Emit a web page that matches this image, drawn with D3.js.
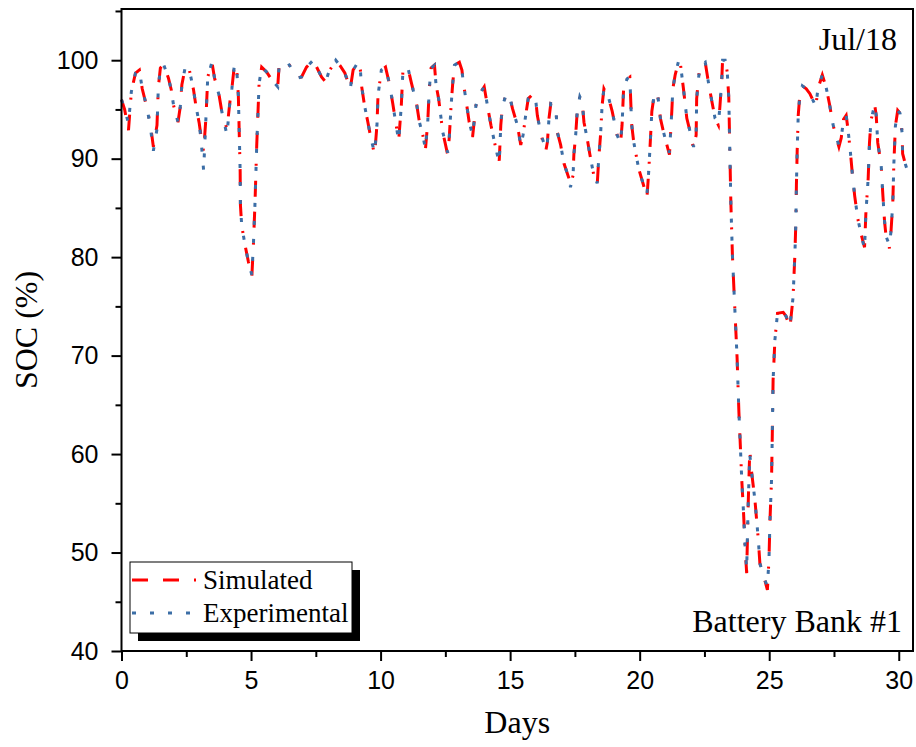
<!DOCTYPE html>
<html>
<head>
<meta charset="utf-8">
<script src="https://cdn.jsdelivr.net/npm/d3@7"></script>
<style>
  body { margin: 0; background: #fff; }
  svg { display: block; }
</style>
</head>
<body>
<div class="soc-chart"></div>
<script>
// days since start of Jul/18
const days = [
  0.00, 0.12, 0.27, 0.38, 0.54, 0.69, 0.80, 0.99, 1.12, 1.23, 1.37, 1.42, 1.50, 1.62, 1.81, 1.92,
  2.01, 2.18, 2.27, 2.33, 2.46, 2.62, 2.78, 2.87, 3.00, 3.08, 3.17, 3.26, 3.33, 3.49, 3.59, 3.77,
  3.87, 4.07, 4.19, 4.26, 4.36, 4.45, 4.51, 4.54, 4.58, 4.59, 4.64, 4.77, 4.90, 5.03, 5.09, 5.15,
  5.22, 5.31, 5.41, 5.60, 5.80, 6.03, 6.08, 6.37, 6.56, 6.80, 6.95, 7.14, 7.40, 7.72, 7.88, 8.00,
  8.27, 8.45, 8.62, 8.83, 8.94, 9.13, 9.22, 9.26, 9.38, 9.51, 9.64, 9.77, 9.86, 9.90, 10.03, 10.19,
  10.35, 10.47, 10.60, 10.70, 10.80, 10.86, 11.05, 11.18, 11.31, 11.40, 11.50, 11.63, 11.73, 11.82, 11.88, 11.95,
  12.08, 12.14, 12.24, 12.40, 12.59, 12.65, 12.72, 12.78, 12.85, 13.04, 13.14, 13.19, 13.30, 13.42, 13.55, 13.68,
  13.78, 14.00, 14.13, 14.26, 14.45, 14.58, 14.64, 14.70, 14.83, 14.96, 15.09, 15.28, 15.41, 15.50, 15.60, 15.70,
  15.86, 15.99, 16.05, 16.18, 16.37, 16.44, 16.50, 16.57, 16.76, 16.82, 16.95, 17.08, 17.27, 17.33, 17.43, 17.46,
  17.53, 17.59, 17.69, 17.78, 17.85, 17.97, 18.08, 18.23, 18.36, 18.42, 18.49, 18.55, 18.62, 18.81, 18.94, 19.13,
  19.26, 19.32, 19.38, 19.51, 19.62, 19.69, 19.77, 19.96, 20.15, 20.28, 20.35, 20.41, 20.47, 20.54, 20.67, 20.73,
  20.80, 20.92, 21.05, 21.15, 21.24, 21.28, 21.37, 21.50, 21.57, 21.69, 21.82, 21.95, 22.08, 22.18, 22.20, 22.27,
  22.33, 22.53, 22.65, 22.78, 22.91, 23.04, 23.10, 23.17, 23.20, 23.30, 23.38, 23.44, 23.48, 23.52, 23.58, 23.66,
  23.76, 23.83, 23.89, 23.94, 24.01, 24.07, 24.13, 24.19, 24.25, 24.31, 24.45, 24.58, 24.64, 24.83, 24.93, 24.99,
  25.03, 25.09, 25.12, 25.15, 25.22, 25.32, 25.54, 25.65, 25.80, 25.92, 25.99, 26.03, 26.05, 26.08, 26.12, 26.18,
  26.28, 26.43, 26.57, 26.80, 26.88, 27.05, 27.20, 27.33, 27.46, 27.59, 27.69, 27.78, 27.87, 27.97, 28.04, 28.13,
  28.20, 28.30, 28.42, 28.55, 28.68, 28.73, 28.82, 28.87, 28.93, 29.07, 29.13, 29.19, 29.32, 29.38, 29.45, 29.51,
  29.64, 29.70, 29.77, 29.81, 29.87, 29.96, 30.05, 30.13, 30.15, 30.26, 30.31
]
// simulated SOC (%)
const simulated = [
  96.0, 95.0, 92.9, 96.8, 98.7, 99.0, 97.1, 95.1, 93.4, 91.2, 93.4, 97.2, 99.2, 99.6, 98.2, 97.0,
  95.4, 93.7, 95.3, 97.5, 99.3, 99.0, 97.0, 95.4, 93.6, 92.1, 90.7, 94.2, 98.3, 99.8, 98.2, 96.4,
  94.8, 93.0, 95.9, 97.1, 99.6, 99.0, 96.4, 93.1, 88.7, 85.3, 83.2, 81.2, 79.5, 78.0, 81.2, 85.3,
  91.4, 97.6, 99.3, 98.8, 98.0, 97.3, 99.3, 99.9, 99.2, 98.2, 98.3, 99.3, 100.0, 98.3, 97.8, 98.8,
  100.0, 99.4, 98.7, 97.1, 99.0, 99.8, 99.0, 97.5, 95.4, 93.7, 91.9, 90.4, 93.4, 96.4, 99.0, 99.3,
  97.5, 95.6, 93.4, 91.9, 95.4, 98.8, 99.3, 97.8, 96.4, 95.4, 93.7, 92.4, 90.9, 93.7, 97.1, 99.2,
  99.5, 97.5, 96.1, 92.7, 90.4, 92.1, 95.3, 97.5, 99.5, 99.8, 99.0, 97.8, 95.9, 93.7, 92.2, 95.4,
  96.4, 97.3, 95.3, 93.4, 91.0, 89.8, 93.4, 95.3, 96.4, 96.6, 95.1, 93.4, 91.4, 92.4, 94.4, 96.1,
  96.5, 95.9, 94.4, 92.6, 90.7, 91.7, 94.1, 95.6, 95.4, 92.7, 91.4, 89.5, 88.0, 87.3, 88.3, 90.4,
  92.4, 94.8, 96.3, 95.8, 93.7, 92.1, 90.4, 88.3, 87.3, 90.0, 92.4, 95.4, 97.1, 96.1, 94.8, 92.4,
  91.5, 93.4, 97.1, 98.1, 98.3, 93.5, 91.7, 89.0, 87.3, 86.0, 88.7, 91.7, 94.8, 96.1, 96.8, 95.8,
  94.1, 92.7, 91.4, 90.4, 94.8, 97.1, 98.5, 99.9, 99.7, 97.1, 94.1, 92.7, 91.0, 92.4, 96.1, 98.1,
  99.5, 99.8, 97.8, 95.9, 94.1, 93.4, 95.4, 98.1, 100.0, 100.0, 98.8, 96.2, 90.8, 85.5, 80.2, 75.5,
  69.8, 64.3, 60.6, 57.4, 54.0, 50.6, 47.9, 55.0, 60.4, 58.4, 55.3, 51.3, 48.9, 47.2, 46.2, 49.2,
  53.3, 57.4, 62.1, 67.5, 71.6, 74.3, 74.4, 74.0, 72.8, 75.9, 80.2, 83.7, 87.3, 90.8, 94.4, 96.4,
  97.4, 97.1, 96.6, 95.3, 97.1, 98.5, 97.2, 95.5, 93.5, 92.1, 91.2, 92.1, 94.0, 94.4, 93.0, 90.8,
  88.7, 86.2, 83.9, 82.3, 81.0, 84.4, 88.0, 91.6, 93.9, 95.5, 94.4, 91.6, 89.4, 86.6, 83.7, 82.1,
  80.9, 82.6, 85.5, 89.4, 93.3, 94.9, 94.6, 92.6, 90.5, 89.4, 89.3
]
// experimental SOC (%)
const experimental = [
  96.0, 95.0, 93.6, 96.8, 98.7, 99.0, 97.1, 95.1, 93.1, 90.8, 93.0, 97.2, 99.2, 99.6, 98.2, 97.0,
  95.4, 93.7, 95.3, 97.5, 99.3, 99.0, 97.0, 95.4, 93.6, 91.6, 88.8, 94.2, 98.3, 99.8, 98.2, 96.4,
  94.8, 92.4, 95.9, 97.1, 99.6, 99.0, 96.4, 93.1, 88.7, 85.3, 83.2, 81.2, 79.5, 78.2, 81.2, 85.3,
  91.4, 97.6, 99.3, 98.8, 98.0, 97.3, 99.3, 99.9, 99.2, 98.2, 98.3, 99.3, 100.0, 98.3, 97.8, 98.8,
  100.0, 99.4, 98.7, 97.1, 99.0, 99.8, 99.0, 97.5, 95.4, 93.7, 91.9, 90.6, 93.4, 96.4, 99.0, 99.3,
  97.5, 95.6, 93.4, 91.8, 95.4, 98.8, 99.3, 97.8, 96.4, 95.4, 93.7, 92.4, 91.0, 93.7, 97.1, 99.2,
  99.5, 97.5, 96.1, 92.7, 90.6, 92.1, 95.3, 97.5, 99.5, 99.8, 99.0, 97.8, 95.9, 93.7, 92.4, 95.4,
  96.4, 97.3, 95.3, 93.4, 91.0, 89.6, 93.4, 95.3, 96.4, 96.6, 95.1, 93.4, 91.3, 92.4, 94.4, 96.1,
  96.5, 95.9, 94.4, 92.6, 91.0, 91.7, 94.1, 95.6, 95.4, 92.7, 91.4, 89.5, 88.0, 87.1, 88.3, 90.4,
  92.4, 94.8, 96.3, 95.8, 93.7, 92.1, 90.4, 88.3, 87.5, 90.0, 92.4, 95.4, 97.1, 96.1, 94.8, 92.4,
  91.6, 93.4, 97.1, 98.1, 98.3, 93.5, 91.7, 89.0, 87.3, 86.4, 88.7, 91.7, 94.8, 96.1, 96.8, 95.8,
  94.1, 92.7, 91.4, 90.6, 94.8, 97.1, 98.5, 99.9, 99.7, 97.1, 94.1, 92.7, 91.2, 92.4, 96.1, 98.1,
  99.5, 99.8, 97.8, 95.9, 94.1, 93.6, 95.4, 98.1, 100.0, 100.0, 98.8, 96.2, 90.8, 85.5, 80.2, 75.5,
  69.8, 64.3, 60.6, 57.4, 54.0, 50.6, 48.3, 55.0, 60.0, 58.4, 55.3, 51.3, 48.9, 47.2, 46.6, 49.2,
  53.3, 57.4, 62.1, 67.5, 71.6, 74.3, 74.4, 74.0, 73.0, 75.9, 80.2, 83.7, 87.3, 90.8, 94.4, 96.4,
  97.4, 97.1, 96.6, 95.3, 97.1, 98.5, 97.2, 95.5, 93.5, 92.1, 91.4, 92.1, 94.0, 94.4, 93.0, 90.8,
  88.7, 86.2, 83.9, 82.3, 80.8, 84.4, 88.0, 91.6, 93.9, 95.5, 94.4, 91.6, 89.4, 86.6, 83.7, 82.1,
  81.2, 82.6, 85.5, 89.4, 93.3, 94.9, 94.6, 92.6, 90.5, 89.4, 89.0
]
const xTicks = [0, 5, 10, 15, 20, 25, 30]
const xMinorTicks = [2.5, 7.5, 12.5, 17.5, 22.5, 27.5]
const yTicks = [40, 50, 60, 70, 80, 90, 100]
const yMinorTicks = [45, 55, 65, 75, 85, 95, 105]
const seriesNames = ["Simulated", "Experimental"]

let width = 916
let height = 747
let plotLeft = 121.5, plotRight = 913, plotTop = 9, plotBottom = 651
let serif = "'Liberation Serif', 'Times New Roman', serif"
let sans = "'Liberation Sans', Arial, sans-serif"

let svg = d3.select(".soc-chart")
    .append("svg")
    .attr("width", width)
    .attr("height", height)

let x = d3.scaleLinear().domain([0, 30.55]).range([plotLeft, plotRight])
let y = d3.scaleLinear().domain([40, 105.2]).range([plotBottom, plotTop])

//曲线
let line = d3.line()
    .x((d) => x(d[0]))
    .y((d) => y(d[1]))
let simData = days.map((d, i) => [d, simulated[i]])
let expData = days.map((d, i) => [d, experimental[i]])

let plot = svg.append("g")
plot.append("path")
    .datum(simData)
    .attr("fill", "none")
    .attr("stroke", "#ff0000")
    .attr("stroke-width", 3)
    .attr("stroke-dasharray", "16,15,16,15,2,15")
    .attr("d", line)
plot.append("path")
    .datum(expData)
    .attr("fill", "none")
    .attr("stroke", "#3c6ea6")
    .attr("stroke-width", 3)
    .attr("stroke-dasharray", "4,14")
    .attr("d", line)

//坐标轴
let xAxis = svg.append("g")
    .attr("transform", `translate(0,${plotBottom})`)
    .call(d3.axisBottom(x).tickValues(xTicks).tickSize(10).tickPadding(10).tickFormat(d3.format("d")))
let xMinor = svg.append("g")
    .attr("transform", `translate(0,${plotBottom})`)
    .call(d3.axisBottom(x).tickValues(xMinorTicks).tickSize(6).tickFormat(""))
let yAxis = svg.append("g")
    .attr("transform", `translate(${plotLeft},0)`)
    .call(d3.axisLeft(y).tickValues(yTicks).tickSize(10).tickPadding(13).tickFormat(d3.format("d")))
let yMinor = svg.append("g")
    .attr("transform", `translate(${plotLeft},0)`)
    .call(d3.axisLeft(y).tickValues(yMinorTicks).tickSize(6).tickFormat(""))

;[xAxis, xMinor, yAxis, yMinor].forEach((g) => {
    g.select(".domain").remove()
    g.selectAll("line").attr("stroke", "#000").attr("stroke-width", 2)
    g.selectAll("text")
        .attr("font-family", sans)
        .attr("font-size", 25)
        .attr("fill", "#000")
})

//边框
svg.append("rect")
    .attr("x", plotLeft)
    .attr("y", plotTop)
    .attr("width", plotRight - plotLeft)
    .attr("height", plotBottom - plotTop)
    .attr("fill", "none")
    .attr("stroke", "#000")
    .attr("stroke-width", 2)

//标题
svg.append("text")
    .attr("x", (plotLeft + plotRight) / 2)
    .attr("y", 733)
    .attr("text-anchor", "middle")
    .attr("font-family", serif)
    .attr("font-size", 32)
    .text("Days")
svg.append("text")
    .attr("transform", `translate(37,${(plotTop + plotBottom) / 2}) rotate(-90)`)
    .attr("text-anchor", "middle")
    .attr("font-family", serif)
    .attr("font-size", 32)
    .text("SOC (%)")
svg.append("text")
    .attr("x", 897)
    .attr("y", 50)
    .attr("text-anchor", "end")
    .attr("font-family", serif)
    .attr("font-size", 32)
    .text("Jul/18")
svg.append("text")
    .attr("x", 902)
    .attr("y", 632)
    .attr("text-anchor", "end")
    .attr("font-family", serif)
    .attr("font-size", 32)
    .text("Battery Bank #1")

//图例
let legend = svg.append("g")
legend.append("rect")
    .attr("x", 138).attr("y", 570)
    .attr("width", 222).attr("height", 71)
    .attr("fill", "#000")
legend.append("rect")
    .attr("x", 130).attr("y", 562)
    .attr("width", 222).attr("height", 71)
    .attr("fill", "#fff")
    .attr("stroke", "#000")
    .attr("stroke-width", 1)
let legendStyle = [
    { color: "#ff0000", dash: "16,15,16,15,2,15", y: 580, end: 196 },
    { color: "#3c6ea6", dash: "4,14", y: 613, end: 192 }
]
legend.selectAll(".legend-line")
    .data(seriesNames)
    .enter()
    .append("line")
    .attr("x1", 132)
    .attr("x2", (d, i) => legendStyle[i].end)
    .attr("y1", (d, i) => legendStyle[i].y)
    .attr("y2", (d, i) => legendStyle[i].y)
    .attr("stroke", (d, i) => legendStyle[i].color)
    .attr("stroke-width", 3)
    .attr("stroke-dasharray", (d, i) => legendStyle[i].dash)
legend.selectAll(".legend-text")
    .data(seriesNames)
    .enter()
    .append("text")
    .attr("x", 203)
    .attr("y", (d, i) => legendStyle[i].y + 9)
    .attr("font-family", serif)
    .attr("font-size", 27)
    .text((d) => d)
</script>
</body>
</html>
